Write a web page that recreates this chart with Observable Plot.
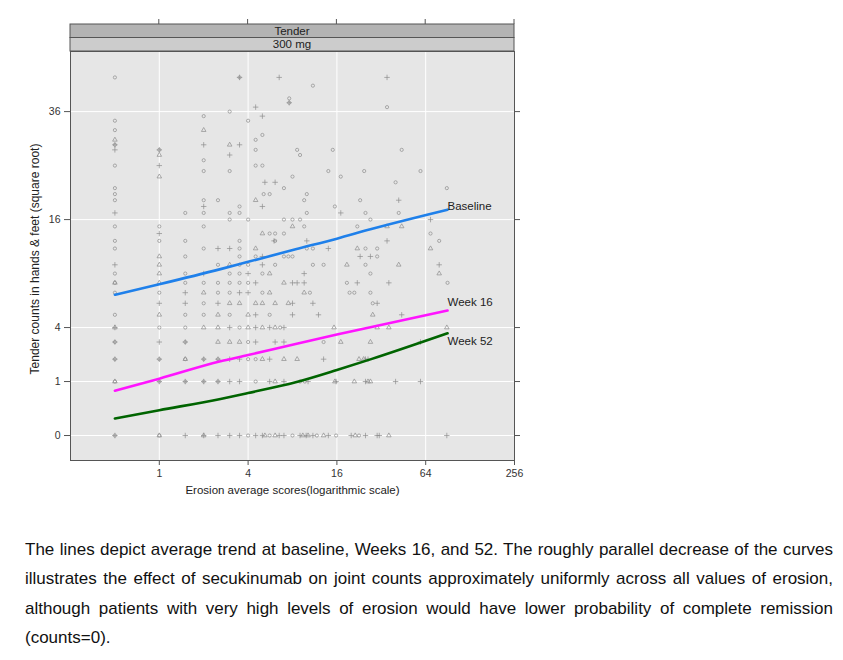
<!DOCTYPE html>
<html><head><meta charset="utf-8">
<script src="https://cdn.jsdelivr.net/npm/d3@7"></script>
<script src="https://cdn.jsdelivr.net/npm/@observablehq/plot@0.6"></script>
<style>
body{margin:0;background:#fff;font-family:"Liberation Sans",Arial,sans-serif;}
#chart svg{display:block}
#caption{position:absolute;left:25px;top:535px;width:808px;font-size:17px;line-height:29.4px;text-align:justify;color:#111;}
</style></head><body>
<div id="chart"></div>
<div id="caption"></div>
<script>
// ---- data ----
const stripTop = "Tender";
const stripBottom = "300 mg";
const xTitle = "Erosion average scores(logarithmic scale)";
const yTitle = "Tender counts in hands & feet (square root)";
const captionText = "The lines depict average trend at baseline, Weeks 16, and 52. The roughly parallel decrease of the curves illustrates the effect of secukinumab on joint counts approximately uniformly across all values of erosion, although patients with very high levels of erosion would have lower probability of complete remission (counts=0).";
const xTicks = [1, 4, 16, 64, 256];
const yTicks = [0, 1, 4, 16, 36];

// observed points: [erosion, count]; circle = baseline, triangle = week 16, plus = week 52
const baselinePts = [
  [0.5,44],[0.5,34],[0.5,32],[0.5,29],[0.5,25],[0.5,21],[1,28],[2,35],[2,26],[2,24],
  [3.5,44],[11,42],[7.6,39],[7.6,38],[3,36],[4,34],[5,31],[4.5,30],[4.5,28],[8.6,28],[9,27],[15,28],
  [4.5,25],[5,25],[3,24],[14,24],[24.5,24],[8,23],[17,23],[7,21],[35,37],[44,28],[59,24],[40,22],[89,21],
  [0.5,20],[0.5,19],[0.5,15],[0.5,13],[0.5,12],[0.5,9],[0.5,8],[0.5,7],[0.5,5],
  [1,15],[1,13],[1,7],[1,4],[1.5,17],[1.5,13],[1.5,11],[1.5,9],[1.5,8],[1.5,5],[1.5,4],
  [2,19],[2,17],[2,15],[2,12],[2,8],[2,6],[2,5],[2.5,19],[2.5,10],[2.5,8],[2.5,7],
  [5.1,20],[5.6,20],[10,20],[9.6,19],[23,19],[3.5,18],[15.5,18],[3,17],[3.5,17],[10,17],[25,17],
  [3,16],[4,16],[7,16],[8,16],[9,16],[22,15],[9.6,15],[5.6,14],[6.1,14],[7,14],[3.5,13],[6.1,13],
  [3.5,12],[10,12],[11,12],[25,12],[3.5,11],[4.5,11],[7,11],[7.5,11],[8,11],[3.5,10],[4,10],[6.1,10],
  [11,10],[13,10],[25,10],[3,9],[3.5,9],[5,9],[3,8],[3.5,8],[4,8],[18.7,8],[3,7],[5,7],[10.5,7],
  [19.5,7],[21,7],[3,5],[5.6,5],[3.5,4],[6.6,4],
  [42,17],[27,16],[69,14],[79,13],[30,12],[30,11],[27,9],[90,8],[27,7],[28,6],
  [0.5,3],[0.5,2],[0.5,1],[0.5,0],[1,2],[1,1],[1,0],[1.5,3],[1.5,2],[1.5,1],[2,2],[2,1],[2.5,2],[2.5,1],
  [4,3],[13,3],[4,2],[4.5,2],[4.5,1],[9,1],[9.7,1],[4,0],[5.6,0],[8,0],[11.7,0],[15.8,0],[22.6,0]
];
const week16Pts = [
  [0.5,30],[1,27],[1,23],[2,32],[3,29],[4.5,19],[0.5,8],[0.5,4],[1,11],[1,10],[1,9],[1,8],[1,5],
  [2,7],[2,4],[2.5,5],[2.5,4],[5,14],[4.5,12],[22,12],[8,15],[3,10],[18.7,10],[5.6,9],[7,8],
  [5.6,7],[9.6,7],[3,6],[3.5,6],[4.5,6],[5,6],[6.1,6],[7.5,6],[4,5],[4,4],[5,4],[6.1,4],[15.3,4],
  [35,15],[44,15],[69,12],[42,10],[79,9],[28,5],[30,4],[36,4],[89,4],
  [2.5,3],[3,3],[3.5,3],[17,3],[0.5,1],[1.5,2],[5,2],[7,2],[8.6,2],[22.6,2],[24.3,2],
  [6.1,1],[15.5,1],[21,1],[26,1],[1,0],[2,0],[5.2,0],[6.1,0],[9.4,0],[10.2,0],[13,0],[21.3,0],
  [27,3],[27,1],[36,0]
];
const week52Pts = [
  [0.5,29],[0.5,28],[1,28],[1,25],[2,29],[3.5,44],[6.5,44],[7.6,38],[4.5,37],[5,35],[3.5,29],
  [3,27],[5.2,22],[6.1,22],[35,44],[0.5,17],[0.5,10],[0.5,4],[1,14],[1,6],[1.5,7],[1.5,6],
  [2,18],[2,9],[2.5,12],[2.5,6],[5,18],[17,17],[6,13],[10,13],[3,12],[14,12],[23,11],[5,11],
  [5,10],[4,9],[9.6,9],[4.5,8],[8,8],[8.6,8],[9.6,8],[22,8],[3.5,7],[4,7],[8,6],[11,6],[4.5,5],
  [8,5],[12,5],[3,4],[4.5,4],[5.6,4],[7,4],[42,19],[69,16],[35,13],[27,11],[79,10],[36,8],[30,6],[44,5],
  [0.5,3],[0.5,2],[0.5,0],[1,3],[1,2],[1,1],[1.5,3],[1.5,1],[1.5,0],[2,2],[2,1],[2,0],[2.5,2],[2.5,1],[2.5,0],
  [4.5,3],[6.1,3],[7,3],[3,2],[3.5,2],[5.6,2],[13,2],[25,2],[26,2],
  [3,1],[3.5,1],[5.6,1],[7,1],[10.2,1],[15.8,1],[25,1],
  [3,0],[3.5,0],[4.5,0],[5,0],[6.5,0],[7,0],[9,0],[9.9,0],[11,0],[14,0],[20,0],[25,0],
  [59,3],[40,1],[59,1],[30,0],[31,0],[89,0]
];

// average trend curves
const curveX = [0.5, 1, 2.6, 4, 8.4, 16, 27, 90];
const baselineCurve = [6.8, 7.85, 9.5, 10.35, 11.9, 13.3, 14.6, 17.5];
const week16Curve = [0.69, 1.11, 1.89, 2.22, 2.88, 3.5, 4.02, 5.36];
const week52Curve = [0.1, 0.22, 0.46, 0.62, 0.97, 1.47, 1.99, 3.59];
const curveNames = ["Baseline", "Week 16", "Week 52"];
const curveColors = ["#1f80ea", "#ff14ff", "#006400"];
const labelX = [90, 90, 90];
const labelY = [18.0, 6.07, 3.03];

// ---- build ----
const curves = [baselineCurve, week16Curve, week52Curve];
const lineRows = curves.flatMap((c, i) => c.map((v, j) => ({x: curveX[j], y: v, name: curveNames[i]})));
const labelRows = curveNames.map((n, i) => ({name: n, x: labelX[i], y: labelY[i]}));
const pt = arr => arr.map(([x, y]) => ({x, y}));

const font = "'Liberation Sans', Arial, sans-serif";
const dotStyle = {x: "x", y: "y", stroke: "#8c8c8c", strokeWidth: 0.7, fill: "none"};

const plot = Plot.plot({
  width: 843, height: 515,
  marginLeft: 70, marginRight: 329, marginTop: 51, marginBottom: 55,
  style: {fontFamily: font, fontSize: "10px", color: "#333", background: "transparent"},
  x: {type: "log", base: 2, domain: [0.25, 256], label: null},
  y: {type: "pow", exponent: 0.5, domain: [-0.214, 50.6], label: null},
  color: {domain: curveNames, range: curveColors},
  marks: [
    Plot.frame({fill: "#e6e6e6", stroke: null}),
    Plot.gridX(xTicks.slice(0, -1), {stroke: "#fff", strokeOpacity: 1, strokeWidth: 1}),
    Plot.gridY(yTicks, {stroke: "#fff", strokeOpacity: 1, strokeWidth: 1}),
    Plot.dot(pt(baselinePts), {...dotStyle, symbol: "circle", r: 1.6}),
    Plot.dot(pt(week16Pts), {...dotStyle, symbol: "triangle", r: 1.7}),
    Plot.dot(pt(week52Pts), {...dotStyle, symbol: "plus", r: 1.9}),
    Plot.line(lineRows, {x: "x", y: "y", z: "name", stroke: "name", strokeWidth: 2.6, curve: "monotone-x"}),
    Plot.text(labelRows, {x: "x", y: "y", text: "name", textAnchor: "start", fontSize: 11.5, fill: "#222"}),
    Plot.axisX({ticks: xTicks, tickSize: 5, tickPadding: 4, tickFormat: d => String(d), stroke: "#555", fontSize: 10.5}),
    Plot.axisY({ticks: yTicks, tickSize: 6, tickPadding: 4, tickFormat: d => String(d), stroke: "#555", fontSize: 10.5}),
    Plot.axisY({anchor: "right", ticks: yTicks, tickSize: 5, tickFormat: () => "", stroke: "#555"}),
    Plot.text([xTitle], {frameAnchor: "bottom", dy: 33, fontSize: 11.5, fill: "#222"}),
    Plot.text([yTitle], {frameAnchor: "left", textAnchor: "middle", dx: -35, dy: 3, rotate: -90, fontSize: 12, fill: "#222"}),
    Plot.frame({stroke: "#555", strokeWidth: 1})
  ]
});

// strips and top ticks above the panel (lattice style)
const svg = d3.select(plot);
const sx = plot.scale("x");
const [x0, x1] = sx.range;
const panelTop = 51, sh = 13.5;
const g = svg.append("g");
[[stripTop, "#b3b3b3", panelTop - 2 * sh], [stripBottom, "#cccccc", panelTop - sh]].forEach(([t, fill, y]) => {
  g.append("rect").attr("x", x0).attr("y", y).attr("width", x1 - x0).attr("height", sh)
    .attr("fill", fill).attr("stroke", "#555").attr("stroke-width", 1);
  g.append("text").attr("x", (x0 + x1) / 2).attr("y", y + sh / 2).attr("dy", "0.36em")
    .attr("text-anchor", "middle").attr("font-size", 11.5).attr("fill", "#222")
    .attr("font-family", font).text(t);
});
xTicks.forEach(v => {
  const px = sx.apply(v);
  g.append("line").attr("x1", px).attr("x2", px).attr("y1", panelTop - 2 * sh).attr("y2", panelTop - 2 * sh - 5)
    .attr("stroke", "#555");
});

document.getElementById("chart").append(plot);
document.getElementById("caption").textContent = captionText;
</script>
</body></html>
